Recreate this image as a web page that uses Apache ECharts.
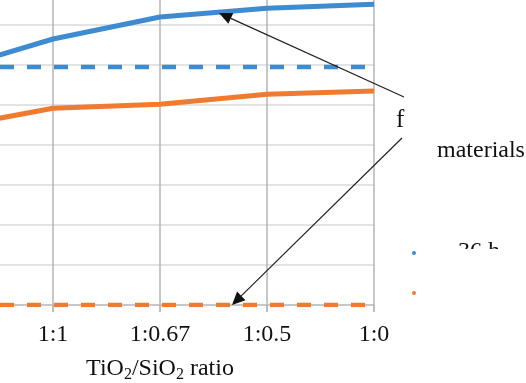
<!DOCTYPE html>
<html>
<head>
<meta charset="utf-8">
<script src="https://cdn.jsdelivr.net/npm/echarts@6/dist/echarts.min.js"></script>
<style>
  html, body { margin: 0; padding: 0; background: #fff; }
  #chart { width: 526px; height: 383px; }
</style>
</head>
<body>
<div id="chart"></div>
<script>
// TiO2/SiO2 ratio categories (first one is cropped out of view)
var ratios = ['1:2', '1:1', '1:0.67', '1:0.5', '1:0'];
// values (arbitrary units, 40 px per unit)
var blueSolid = [5.85, 6.65, 7.2, 7.42, 7.52];
var blueRef = [5.95, 5.95, 5.95, 5.95, 5.95];
var orangeSolid = [4.42, 4.92, 5.02, 5.27, 5.35];
var orangeRef = [0, 0, 0, 0, 0];
var yTicks = [0, 1, 2, 3, 4, 5, 6, 7, 8];

var BLUE = '#3d8bd0';
var ORANGE = '#f07b2e';
var serif = '"Liberation Serif", "DejaVu Serif", serif';

var chart = echarts.init(document.getElementById('chart'));

function lineSeries(name, data, color, dashed) {
  return {
    name: name,
    type: 'line',
    data: data,
    symbol: 'none',
    z: dashed ? 3 : 4,
    lineStyle: { color: color, width: dashed ? 4.5 : 5, type: dashed ? [14, 13] : 'solid', cap: 'butt' },
    animation: false
  };
}

function arrow(x1, y1, x2, y2) {
  var ang = Math.atan2(y2 - y1, x2 - x1);
  var len = 13, w = 6;
  var bx = x2 - len * Math.cos(ang), by = y2 - len * Math.sin(ang);
  var px = -Math.sin(ang) * w, py = Math.cos(ang) * w;
  return [
    { type: 'line', z: 50, shape: { x1: x1, y1: y1, x2: bx, y2: by }, style: { stroke: '#222', lineWidth: 1.2 } },
    { type: 'polygon', z: 50, shape: { points: [[x2, y2], [bx + px, by + py], [bx - px, by - py]] }, style: { fill: '#111' } }
  ];
}

var option = {
  backgroundColor: '#fff',
  animation: false,
  grid: { left: -54, right: 152, top: -15, bottom: 78, containLabel: false, outerBoundsMode: 'none' },
  xAxis: {
    type: 'category',
    data: ratios,
    boundaryGap: false,
    name: '{n|TiO}{sub|2}{n|/SiO}{sub|2}{n| ratio}',
    nameLocation: 'middle',
    nameGap: 49,
    nameTextStyle: {
      fontFamily: serif, fontSize: 24, color: '#111',
      rich: {
        n: { fontFamily: serif, fontSize: 24, color: '#111', lineHeight: 26, verticalAlign: 'top' },
        sub: { fontFamily: serif, fontSize: 16, color: '#111', lineHeight: 16, verticalAlign: 'bottom', padding: [15, 0, 0, 0] }
      }
    },
    axisLine: { show: true, lineStyle: { color: '#bfbfbf', width: 1.5 } },
    axisTick: { show: true, length: 7, alignWithLabel: true, lineStyle: { color: '#a8a8a8', width: 1.5 } },
    axisLabel: { fontFamily: serif, fontSize: 24, color: '#111', margin: 18 },
    splitLine: { show: true, lineStyle: { color: '#b4b4b4', width: 1.5 } }
  },
  yAxis: {
    type: 'value',
    min: yTicks[0],
    max: yTicks[yTicks.length - 1],
    interval: 1,
    axisLine: { show: false },
    axisTick: { show: false },
    axisLabel: { show: false },
    splitLine: { show: true, lineStyle: { color: '#dadada', width: 1.5 } }
  },
  series: [
    lineSeries('36 h', blueSolid, BLUE, false),
    lineSeries('36 h ref', blueRef, BLUE, true),
    lineSeries('72 h', orangeSolid, ORANGE, false),
    lineSeries('72 h ref', orangeRef, ORANGE, true)
  ],
  graphic: [].concat(
    arrow(404, 97, 219, 13),
    arrow(402, 138, 232, 305),
    [
      { type: 'text', z: 60, left: 396, top: 108, style: { text: 'f', font: '25px ' + serif, fill: '#111' } },
      { type: 'text', z: 60, left: 437, top: 139, style: { text: 'materials', font: '24px ' + serif, fill: '#111' } },
      { type: 'text', z: 60, left: 458, top: 240, style: { text: '36 h', font: '24px ' + serif, fill: '#111' } },
      { type: 'rect', z: 61, shape: { x: 440, y: 249, width: 86, height: 40 }, style: { fill: '#fff' } },
      { type: 'circle', z: 60, shape: { cx: 414, cy: 253, r: 2 }, style: { fill: BLUE } },
      { type: 'circle', z: 60, shape: { cx: 414, cy: 293, r: 2 }, style: { fill: ORANGE } }
    ]
  )
};

chart.setOption(option);
</script>
</body>
</html>
